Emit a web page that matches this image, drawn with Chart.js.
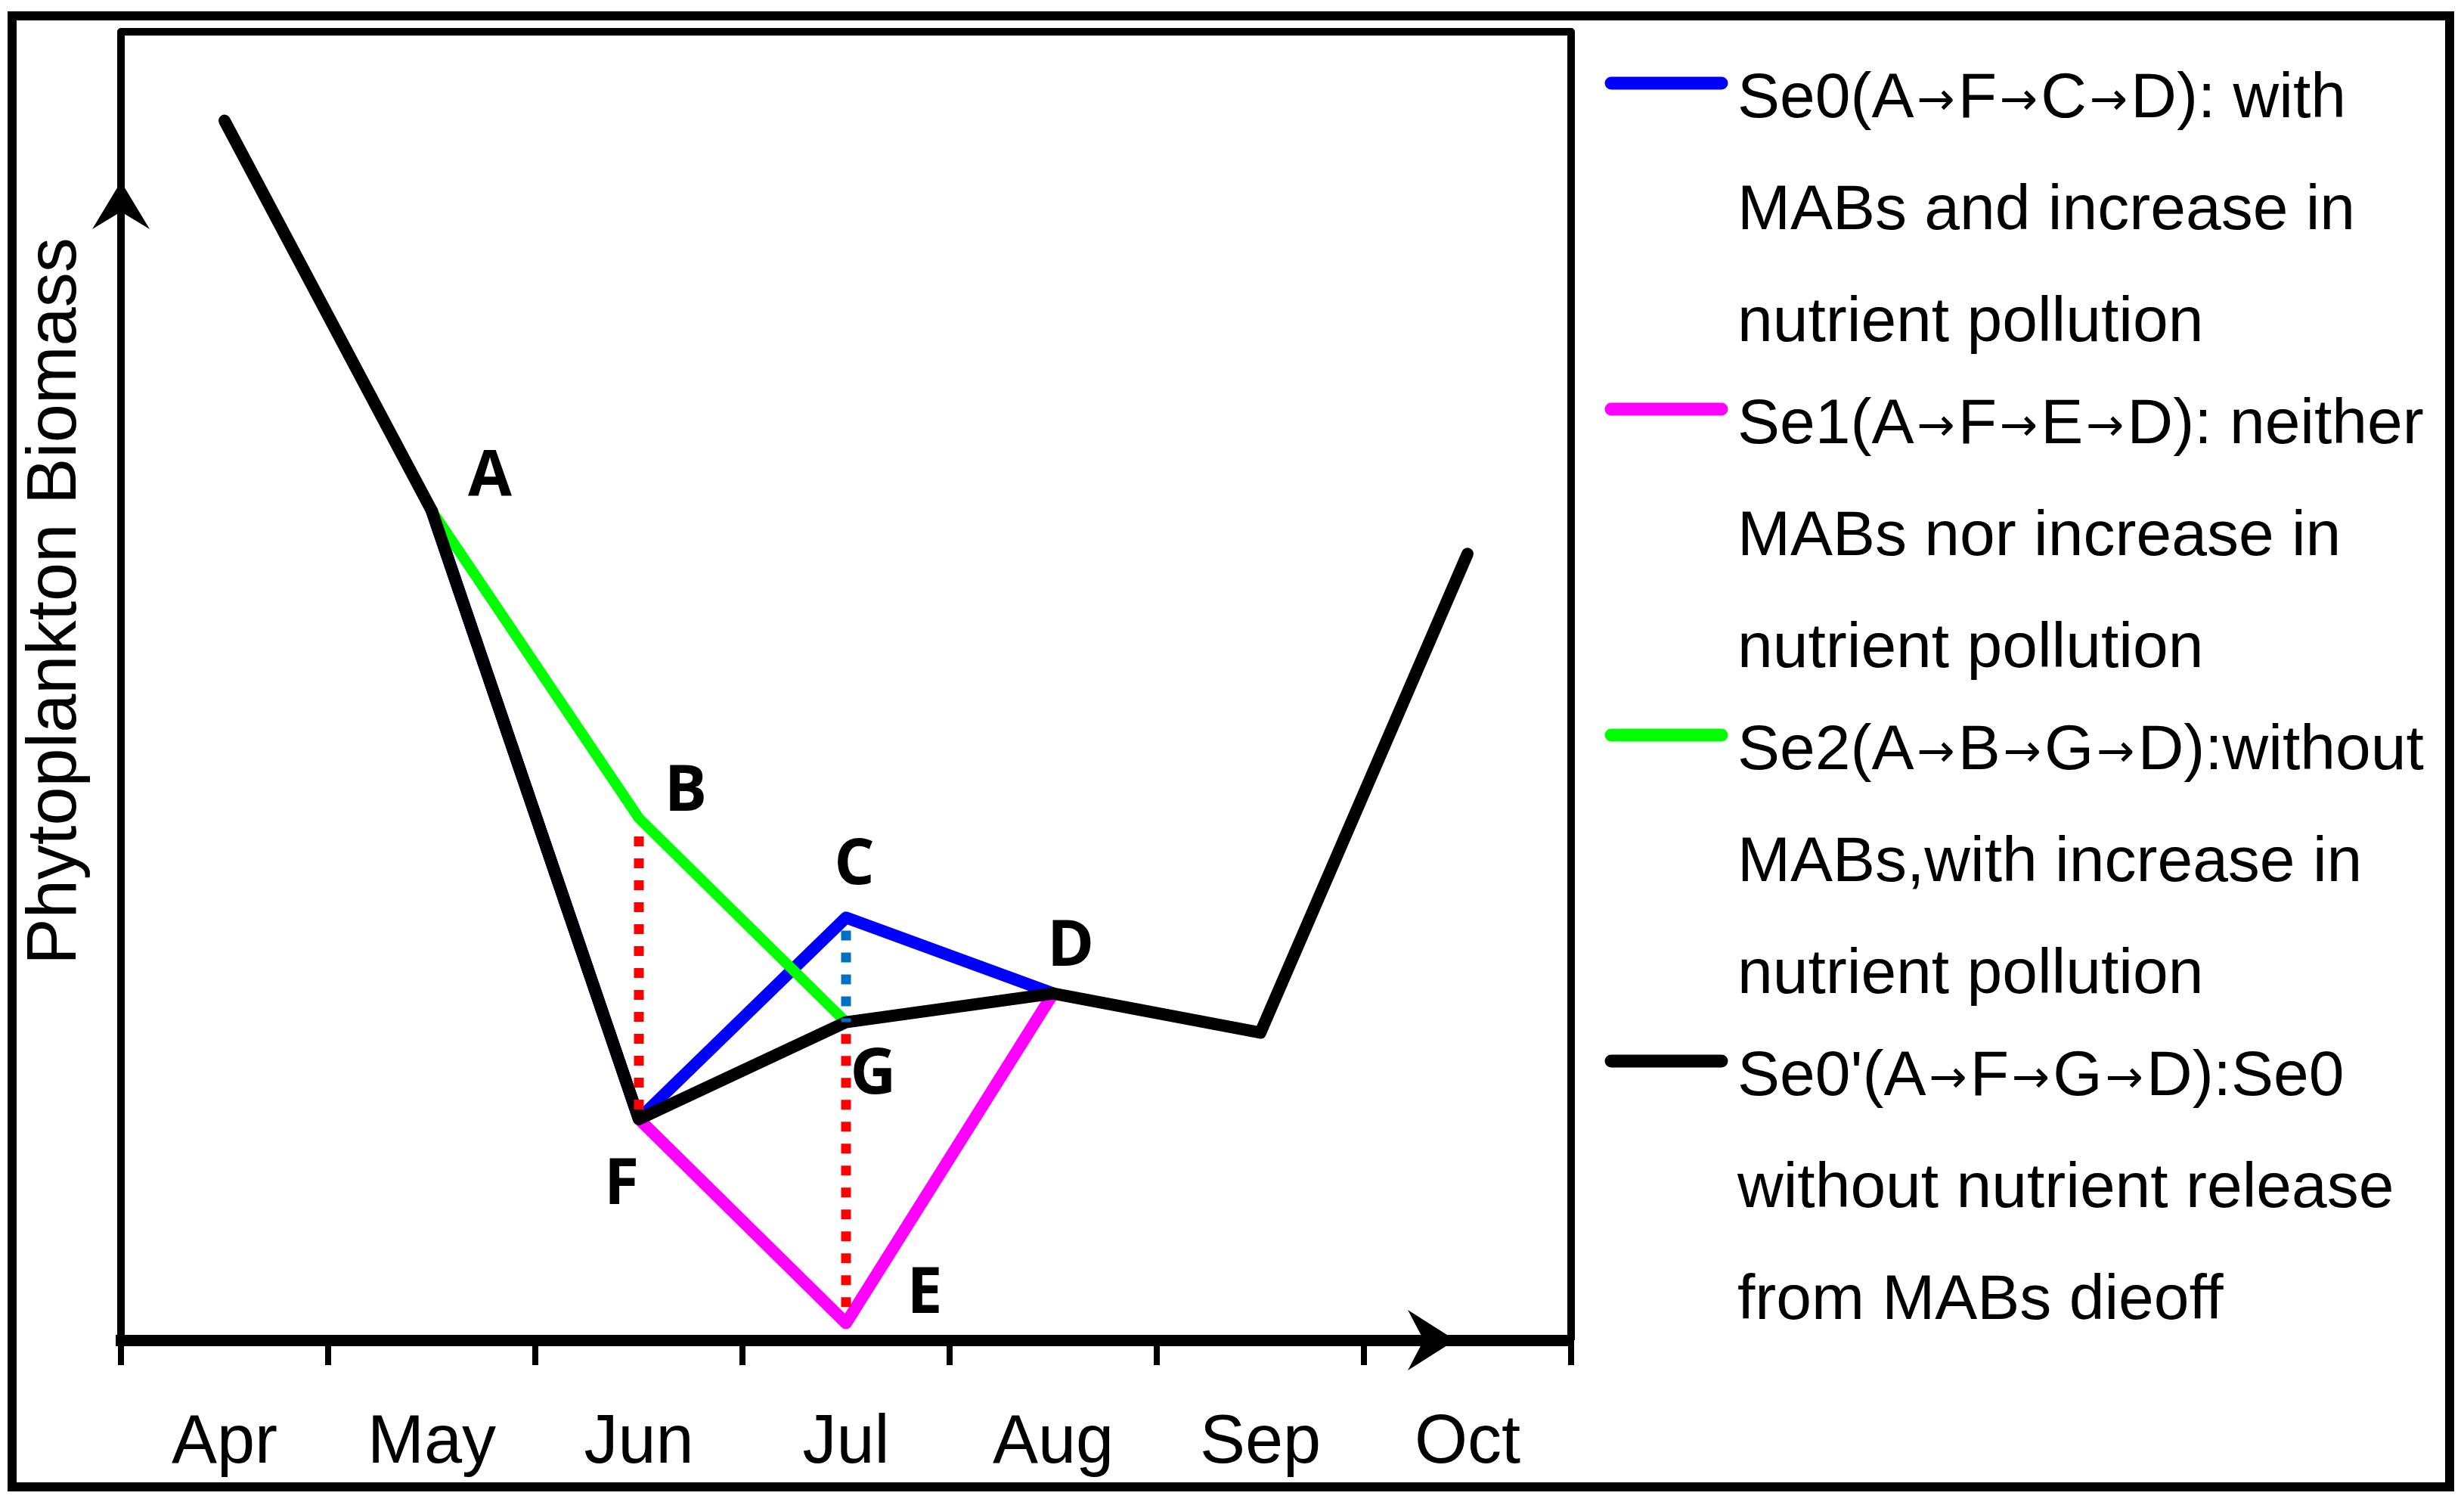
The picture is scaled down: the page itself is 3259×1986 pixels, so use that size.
<!DOCTYPE html>
<html>
<head>
<meta charset="utf-8">
<script src="https://cdn.jsdelivr.net/npm/chart.js@4"></script>
<style>
  html, body { margin: 0; padding: 0; background: #fff; }
  canvas { display: block; }
</style>
</head>
<body>
<canvas id="phytoChart" width="3259" height="1986"></canvas>
<script>
const months = ['Apr', 'May', 'Jun', 'Jul', 'Aug', 'Sep', 'Oct'];

// relative biomass: 0 = x axis, 100 = top of the frame
const se0Values  = [null, 63.4, 16.9, 32.3, 26.5, null, null];   // A-F-C-D
const se1Values  = [null, 63.4, 16.9, 1.3, 26.5, null, null];    // A-F-E-D
const se2Values  = [null, 63.4, 39.9, 24.3, 26.5, null, null];   // A-B-G-D
const se0pValues = [93.2, 63.4, 16.9, 24.3, 26.5, 23.5, 60.1];   // A-F-G-D

// dotted vertical guides
const guideBF = [{ x: 'Jun', y: 38.5 }, { x: 'Jun', y: 16.9 }];
const guideGE = [{ x: 'Jul', y: 23.4 }, { x: 'Jul', y: 2.5 }];
const guideCG = [{ x: 'Jul', y: 31.3 }, { x: 'Jul', y: 24.3 }];

const pointNames  = ['A', 'B', 'C', 'D', 'E', 'F', 'G'];
const pointMonths = ['May', 'Jun', 'Jul', 'Aug', 'Jul', 'Jun', 'Jul'];
const pointValues = [63.4, 39.9, 32.3, 26.5, 1.3, 16.9, 24.3];

const yTitle = 'Phytoplankton Biomass';

const legendTexts = [
    ['Se0(A\u2192F\u2192C\u2192D): with', 'MABs and increase in', 'nutrient pollution'],
    ['Se1(A\u2192F\u2192E\u2192D): neither', 'MABs nor increase in', 'nutrient pollution'],
    ['Se2(A\u2192B\u2192G\u2192D):without', 'MABs,with increase in', 'nutrient pollution'],
    ["Se0'(A\u2192F\u2192G\u2192D):Se0", 'without nutrient release', 'from MABs dieoff']
];

const FONT = "'Liberation Sans', Arial, sans-serif";
const ARROW = '\u2192';

// letter offsets from their point (px)
const letterOffsets = {
    A: [77, -50], B: [62, -40], C: [11, -74], D: [23, -67],
    E: [104, -44], F: [-23, 82], G: [36, 64]
};

const framePlugin = {
    id: 'frame',
    afterDraw(chart) {
        const ctx = chart.ctx;
        const a = chart.chartArea;
        ctx.save();
        ctx.strokeStyle = '#000';
        ctx.fillStyle = '#000';

        // outer border
        ctx.lineWidth = 12;
        ctx.strokeRect(16, 21, 3224, 1945);

        // left axis + top + right of the box
        ctx.lineWidth = 10;
        ctx.lineJoin = 'round';
        ctx.beginPath();
        ctx.moveTo(a.left, a.bottom);
        ctx.lineTo(a.left, a.top);
        ctx.lineTo(a.right, a.top);
        ctx.lineTo(a.right, a.bottom);
        ctx.stroke();

        // y arrow head
        const yt = 240;
        ctx.beginPath();
        ctx.moveTo(a.left, yt);
        ctx.lineTo(a.left + 38, yt + 63);
        ctx.lineTo(a.left, yt + 40);
        ctx.lineTo(a.left - 38, yt + 63);
        ctx.closePath();
        ctx.fill();

        // x arrow head
        const xt = 1925;
        ctx.beginPath();
        ctx.moveTo(xt, a.bottom);
        ctx.lineTo(xt - 63, a.bottom - 40);
        ctx.lineTo(xt - 42, a.bottom);
        ctx.lineTo(xt - 63, a.bottom + 40);
        ctx.closePath();
        ctx.fill();

        // y title
        ctx.translate(75, 795);
        ctx.rotate(-Math.PI / 2);
        ctx.font = '92px ' + FONT;
        ctx.textAlign = 'center';
        ctx.textBaseline = 'middle';
        ctx.fillText(yTitle, 0, 0);
        ctx.restore();
    }
};

const letterPlugin = {
    id: 'letters',
    afterDatasetsDraw(chart) {
        const ctx = chart.ctx;
        const xs = chart.scales.x;
        const ys = chart.scales.y;
        ctx.save();
        ctx.fillStyle = '#000';
        ctx.font = "bold 84px 'Open Sans', 'Noto Sans', sans-serif";
        ctx.textAlign = 'center';
        ctx.textBaseline = 'alphabetic';
        pointNames.forEach((name, i) => {
            const px = xs.getPixelForValue(months.indexOf(pointMonths[i]));
            const py = ys.getPixelForValue(pointValues[i]);
            const off = letterOffsets[name];
            ctx.fillText(name, px + off[0], py + off[1] + 30);
        });
        ctx.restore();
    }
};

// legend text with small arrows, like the original
function drawLegendLine(ctx, text, x, y) {
    const parts = text.split(ARROW);
    parts.forEach((part, k) => {
        ctx.font = '84px ' + FONT;
        ctx.fillText(part, x, y);
        x += ctx.measureText(part).width;
        if (k < parts.length - 1) {
            ctx.font = "60px 'DejaVu Sans', sans-serif";
            x += 4;
            ctx.fillText(ARROW, x, y - 4);
            x += ctx.measureText(ARROW).width + 4;
        }
    });
}

const legendPlugin = {
    id: 'sideLegend',
    afterDraw(chart) {
        const ctx = chart.ctx;
        const mainSets = chart.data.datasets.filter(d => d.inLegend);
        ctx.save();
        ctx.fillStyle = '#000';
        ctx.textBaseline = 'alphabetic';
        mainSets.forEach((ds, i) => {
            const base = 155 + i * 431;
            ctx.strokeStyle = ds.borderColor;
            ctx.lineWidth = 17;
            ctx.lineCap = 'round';
            ctx.beginPath();
            ctx.moveTo(2131, base - 45);
            ctx.lineTo(2277, base - 45);
            ctx.stroke();
            legendTexts[i].forEach((line, j) => {
                drawLegendLine(ctx, line, 2298, base + j * 148);
            });
        });
        ctx.restore();
    }
};

const guideStyle = {
    borderWidth: 13,
    borderDash: [13, 16],
    borderCapStyle: 'butt',
    pointRadius: 0,
    order: 0
};

const chart = new Chart('phytoChart', {
    type: 'line',
    data: {
        labels: months,
        datasets: [
            { label: 'Se0', data: se0Values, borderColor: '#0000FF', borderWidth: 16, order: 3, inLegend: true },
            { label: 'Se1', data: se1Values, borderColor: '#FF00FF', borderWidth: 16, order: 4, inLegend: true },
            { label: 'Se2', data: se2Values, borderColor: '#00FF00', borderWidth: 14, order: 2, inLegend: true },
            { label: "Se0'", data: se0pValues, borderColor: '#000000', borderWidth: 16, order: 1, inLegend: true },
            Object.assign({ label: 'B-F', data: guideBF, borderColor: '#FF0000' }, guideStyle),
            Object.assign({ label: 'G-E', data: guideGE, borderColor: '#FF0000' }, guideStyle),
            Object.assign({ label: 'C-G', data: guideCG, borderColor: '#0070C0' }, guideStyle)
        ]
    },
    options: {
        responsive: false,
        devicePixelRatio: 1,
        animation: false,
        layout: { padding: { left: 160, right: 1181, top: 42, bottom: 0 } },
        plugins: {
            legend: { display: false },
            tooltip: { enabled: false }
        },
        elements: {
            point: { radius: 0 },
            line: { tension: 0, borderJoinStyle: 'round', borderCapStyle: 'round' }
        },
        scales: {
            x: {
                offset: true,
                grid: { offset: true, drawOnChartArea: false, drawTicks: true, tickLength: 33, lineWidth: 8, color: '#000' },
                border: { display: true, width: 15, color: '#000' },
                ticks: { color: '#000', font: { family: FONT, size: 90 }, padding: 50, maxRotation: 0, autoSkip: false },
                afterFit: s => { s.height = 214; }
            },
            y: { display: false, min: 0, max: 100 }
        }
    },
    plugins: [framePlugin, letterPlugin, legendPlugin]
});
</script>
</body>
</html>
